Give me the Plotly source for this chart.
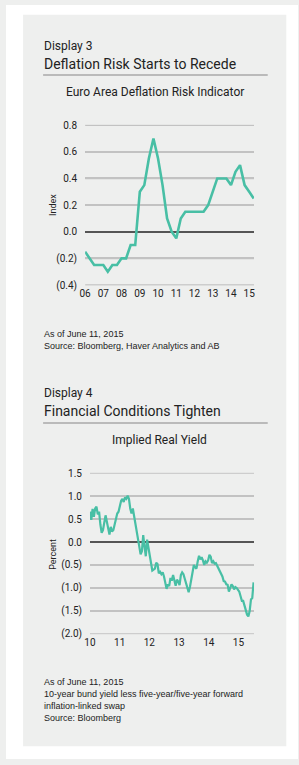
import plotly.graph_objects as go
import pandas as pd

# ---------------- data ----------------
c1_title = "Euro Area Deflation Risk Indicator"
c1_values = [-0.15, -0.20, -0.25, -0.25, -0.25, -0.30, -0.25, -0.25, -0.20, -0.20,
             -0.10, -0.10, 0.30, 0.35, 0.55, 0.70, 0.55, 0.35, 0.10, 0.00,
             -0.05, 0.10, 0.15, 0.15, 0.15, 0.15, 0.15, 0.20, 0.30, 0.40,
             0.40, 0.40, 0.35, 0.45, 0.50, 0.35, 0.30, 0.25]
c1_dates = pd.date_range("2006-01-01", periods=len(c1_values), freq="QS")
c1_yticks = [-0.4, -0.2, 0.0, 0.2, 0.4, 0.6, 0.8]
c1_yticktext = ["(0.4)", "(0.2)", "0.0", "0.2", "0.4", "0.6", "0.8"]
c1_xyears = list(range(2006, 2016))
c1_xticktext = ["06", "07", "08", "09", "10", "11", "12", "13", "14", "15"]

c2_title = "Implied Real Yield"
c2_values = [0.66, 0.48, 0.72, 0.55, 0.73, 0.77, 0.60, 0.66, 0.38, 0.20,
             0.26, 0.44, 0.58, 0.44, 0.30, 0.16, 0.33, 0.23, 0.26, 0.38,
             0.44, 0.62, 0.66, 0.80, 0.90, 0.94, 0.87, 0.97, 0.94, 1.01,
             0.94, 0.73, 0.62, 0.73, 0.55, 0.38,
             0.26, 0.02, -0.09, -0.27, -0.20, 0.15, -0.10, -0.31, 0.05, -0.10,
             -0.30, -0.45, -0.62, -0.60, -0.58, -0.45, -0.48, -0.68, -0.65, -0.70,
             -0.66, -0.75, -0.90, -1.02, -0.92, -0.96, -0.78, -0.84, -0.72, -0.85,
             -0.95, -0.82, -0.86, -0.94, -0.72, -0.66, -0.70, -0.80, -0.92, -1.02,
             -1.09, -0.98, -0.82, -0.68, -0.50, -0.55, -0.58, -0.42, -0.30, -0.38,
             -0.33, -0.40, -0.50, -0.42, -0.45, -0.40, -0.28, -0.32, -0.46, -0.42,
             -0.47, -0.46, -0.52, -0.58, -0.62, -0.68, -0.75, -0.85, -0.86, -0.92,
             -0.93, -1.08, -1.00, -0.92, -0.96, -1.03, -0.98, -1.00, -1.04, -1.08,
             -1.18, -1.28, -1.28, -1.38, -1.52, -1.58, -1.62, -1.50, -1.25, -1.22,
             -0.88]
c2_dates = pd.date_range("2010-01-01", "2015-07-06", periods=len(c2_values))
c2_yticks = [-2.0, -1.5, -1.0, -0.5, 0.0, 0.5, 1.0, 1.5]
c2_yticktext = ["(2.0)", "(1.5)", "(1.0)", "(0.5)", "0.0", "0.5", "1.0", "1.5"]
c2_xyears = list(range(2010, 2016))
c2_xticktext = ["10", "11", "12", "13", "14", "15"]

# ---------------- style ----------------
W, H = 299, 765
BG = "#eeefee"
TEAL = "#48bfa5"
GRID = "#c2c2c2"
ZERO = "#555555"
TXT = "#222222"
HEAD_FONT = "Roboto"
NOTE_FONT = "Liberation Sans"
C1_XRANGE = ["2006-01-01", "2015-04-08"]
C2_XRANGE = ["2010-01-01", "2015-07-12"]

def px(x):
    return x / W

def py(y):
    return 1 - y / H

def grid_trace(xrange, ticks, xa, ya):
    xs, ys = [], []
    for t in ticks:
        if t == 0:
            continue
        xs += [xrange[0], xrange[1], None]
        ys += [t, t, None]
    return go.Scatter(x=xs, y=ys, mode="lines", line=dict(color=GRID, width=1.6),
                      xaxis=xa, yaxis=ya, showlegend=False, hoverinfo="skip",
                      connectgaps=False, cliponaxis=False)

fig = go.Figure()
fig.add_trace(grid_trace(C1_XRANGE, c1_yticks, "x", "y"))
fig.add_trace(grid_trace(C2_XRANGE, c2_yticks, "x2", "y2"))
fig.add_trace(go.Scatter(x=c1_dates, y=c1_values, mode="lines",
                         line=dict(color=TEAL, width=2.6), xaxis="x", yaxis="y",
                         showlegend=False, hoverinfo="skip"))
fig.add_trace(go.Scatter(x=c2_dates, y=c2_values, mode="lines",
                         line=dict(color=TEAL, width=2.2), xaxis="x2", yaxis="y2",
                         showlegend=False, hoverinfo="skip"))

tickfont = dict(family=HEAD_FONT, size=10, color=TXT)
yax_common = dict(showgrid=True, gridcolor=GRID, gridwidth=1.6, zeroline=True,
                  zerolinecolor=ZERO, zerolinewidth=1.8,
                  showline=False, tickfont=tickfont, ticks="", ticklabelstandoff=7)
xax_common = dict(showgrid=False, zeroline=False, showline=False, ticks="",
                  tickfont=tickfont, ticklabelstandoff=1)

fig.update_layout(
    width=W, height=H,
    margin=dict(l=0, r=0, t=0, b=0),
    paper_bgcolor=BG, plot_bgcolor="rgba(0,0,0,0)",
    xaxis=dict(domain=[px(81), px(254)], anchor="y", range=C1_XRANGE,
               tickvals=[f"{y}-01-01" for y in c1_xyears], ticktext=c1_xticktext,
               **xax_common),
    yaxis=dict(domain=[py(284.5), py(121.5)], anchor="x",
               range=[-0.403, 0.803],
               tickvals=c1_yticks, ticktext=c1_yticktext, **yax_common),
    xaxis2=dict(domain=[px(86), px(254)], anchor="y2", range=C2_XRANGE,
                tickvals=[f"{y}-01-01" for y in c2_xyears], ticktext=c2_xticktext,
                **xax_common),
    yaxis2=dict(domain=[py(638.5), py(474.5)], anchor="x2",
                range=[-2.008, 1.508],
                tickvals=c2_yticks, ticktext=c2_yticktext, **yax_common),
)

# white page around the grey panel
for (x0, x1, y0, y1) in [(0, W, 0, 10), (0, W, 752, H), (0, 17.5, 0, H), (287, W, 0, H)]:
    fig.add_shape(type="rect", xref="paper", yref="paper", x0=px(x0), x1=px(x1),
                  y0=py(y1), y1=py(y0), fillcolor="white", line=dict(width=0),
                  layer="above")
# separators
for yy in (71, 424):
    fig.add_shape(type="line", xref="paper", yref="paper", x0=px(38), x1=px(268),
                  y0=py(yy), y1=py(yy), line=dict(color="#a8a8a8", width=1.5))

def text(x, y, s, size, family=HEAD_FONT, xanchor="left", angle=0, color=TXT):
    fig.add_annotation(x=px(x), y=py(y), xref="paper", yref="paper", text=s,
                       showarrow=False, xanchor=xanchor, yanchor="middle",
                       textangle=angle,
                       font=dict(family=family, size=size, color=color))

# Display 3
text(37, 42, "Display 3", 12)
text(37, 60, "Deflation Risk Starts to Recede", 14)
text(152.5, 88, c1_title, 12, xanchor="center")
text(48, 203, "Index", 9, xanchor="center", angle=-90)
text(37, 334, "As of June 11, 2015", 9, family=NOTE_FONT)
text(37, 346, "Source: Bloomberg, Haver Analytics and AB", 9, family=NOTE_FONT)

# Display 4
text(37, 394, "Display 4", 12)
text(37, 412, "Financial Conditions Tighten", 14)
text(157, 441, c2_title, 12, xanchor="center")
text(48, 557, "Percent", 9, xanchor="center", angle=-90)
text(37, 687, "As of June 11, 2015", 9, family=NOTE_FONT)
text(37, 699, "10-year bund yield less five-year/five-year forward", 9, family=NOTE_FONT)
text(37, 711, "inflation-linked swap", 9, family=NOTE_FONT)
text(37, 723, "Source: Bloomberg", 9, family=NOTE_FONT)

fig.write_html("out.html", config={"displayModeBar": False})
